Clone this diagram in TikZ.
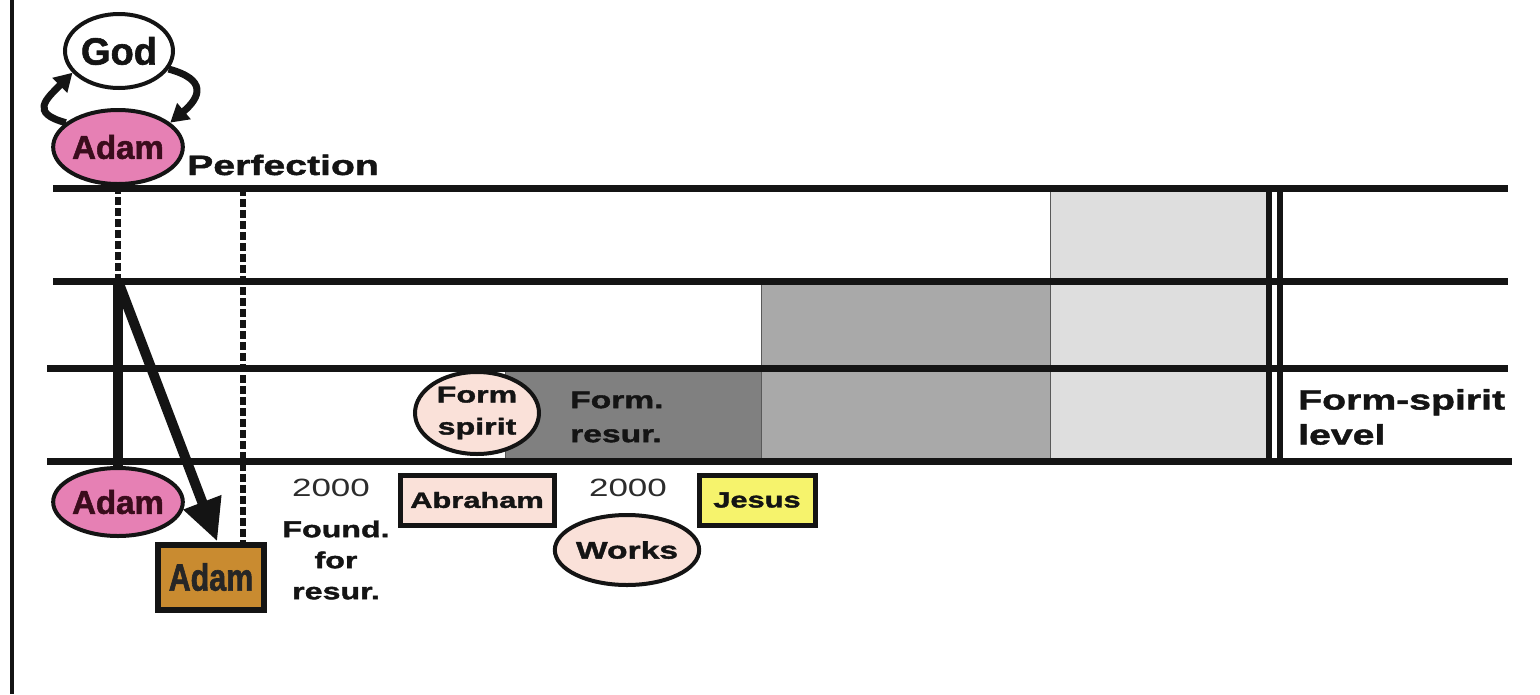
\documentclass[tikz,border=0pt]{standalone}
\usepackage{fontspec}
\setmainfont{Liberation Sans}[BoldFeatures={FakeBold=1.6}]
\newfontfamily\widesf{Liberation Sans}[FakeStretch=1.4,BoldFeatures={FakeBold=1.6}]
\newfontfamily\narrowsf{Liberation Sans}[FakeStretch=0.8,BoldFeatures={FakeBold=1.6}]
\usetikzlibrary{arrows.meta,positioning,shapes.geometric}
\definecolor{ink}{HTML}{141414}
\definecolor{adampink}{HTML}{E680B4}
\definecolor{adamtext}{HTML}{3A0C1C}
\definecolor{bronze}{HTML}{C98B30}
\definecolor{blush}{HTML}{FAE1D9}
\definecolor{lemon}{HTML}{F6F36C}
\definecolor{paleA}{HTML}{DEDEDE}
\definecolor{paleB}{HTML}{A9A9A9}
\definecolor{paleC}{HTML}{808080}
\newcommand\hv[2]{\widesf\bfseries\fontsize{#1}{#2}\selectfont}
\tikzset{
  bar/.style={line width=7pt,draw=ink},
  shade/.style={draw=black!65,line width=1pt},
  oval/.style={ellipse,draw=ink,line width=4pt,inner sep=0pt,align=center,text=ink},
  tag/.style={rectangle,draw=ink,line width=5pt,inner sep=0pt,text=ink},
  lbl/.style={inner sep=0pt,align=center,text=ink},
  yr/.style={inner sep=0pt,text=ink!90,font=\widesf\fontsize{25}{30}\selectfont},
  loop/.style={-{Triangle[length=18pt,width=20pt]},line width=7pt,draw=ink,looseness=1.9},
  fall/.style={-{Triangle[length=42pt,width=38pt]},line width=10pt,draw=ink},
  dots/.style={line width=6pt,draw=ink,dash pattern=on 8pt off 3pt},
}

\begin{document}
\begin{tikzpicture}[x=1pt,y=-1pt]
  \useasboundingbox (0,0) rectangle (1540,694);
  % shaded stages
  \filldraw[shade,fill=paleA] (1050,188) rectangle (1266,461);
  \filldraw[shade,fill=paleB] (761,281) rectangle (1050,461);
  \filldraw[shade,fill=paleC] (505,368) rectangle (761,461);
  % frame and levels
  \draw[line width=4pt,draw=ink] (12,0) -- (12,694);
  \foreach \y/\a/\b in {188/53/1508,281/53/1508,368/47/1508,461/47/1512}
    \draw[bar] (\a,\y) -- (\b,\y);
  \foreach \x in {1269,1280}
    \draw[line width=6pt,draw=ink] (\x,188) -- (\x,461);
  % God and Adam at perfection
  \node[oval,fill=white,minimum width=108,minimum height=74,font=\bfseries\fontsize{38}{40}\selectfont] (god) at (119,51) {God};
  \node[oval,fill=adampink,text=adamtext,minimum width=110,minimum height=74,font=\bfseries\fontsize{33}{36}\selectfont] (adamtop) at (118,147) {Adam};
  \node[lbl,anchor=base west,font=\hv{28}{34}] (perf) at (187,175) {Perfection};
  \draw[loop] (adamtop.155) to[out=165,in=225] (god.205);
  \draw[loop] (god.-20) to[out=-15,in=40] (adamtop.25);
  % the fall
  \coordinate (fallpt) at (118,281);
  \coordinate (foundtop) at (243,188);
  \node[oval,fill=adampink,text=adamtext,minimum width=106,minimum height=68,font=\bfseries\fontsize{33}{36}\selectfont] (adambot) at (118,502) {Adam};
  \node[tag,fill=bronze,text=black!85,minimum width=106,minimum height=65,line width=6pt,font=\narrowsf\bfseries\fontsize{38}{40}\selectfont] (adambox) at (211,577) {Adam};
  \draw[dots] (adamtop.south) -- (fallpt);
  \draw[dots] (foundtop) -- (foundtop |- adambox.north);
  \draw[line width=10pt,draw=ink] (fallpt) -- (adambot.north);
  \draw[fall] (fallpt) -- (adambox.80);
  % first 2000 years
  \node[yr] (yrA) at (331,488) {2000};
  \node[lbl,font=\hv{23}{31}] (found) at (336,560) {Found.\\for\\resur.};
  \node[tag,fill=blush,minimum width=154,minimum height=50,font=\hv{22}{26}] (abraham) at (477,500) {Abraham};
  % second 2000 years
  \node[yr] (yrB) at (628,488) {2000};
  \node[oval,fill=blush,minimum width=122,minimum height=70,font=\hv{24}{28}] (works) at (627,550) {Works};
  \node[tag,fill=lemon,minimum width=116,minimum height=50,font=\hv{22}{26}] (jesus) at (757,500) {Jesus};
  \node[oval,fill=blush,minimum width=124,minimum height=82,font=\hv{23}{32}] (formspirit) at (477,413) {Form\\spirit};
  \node[lbl,anchor=west,align=left,font=\hv{24}{34}] (formres) at (570,417) {Form.\\resur.};
  \node[lbl,anchor=west,align=left,font=\hv{28}{35}] (fslevel) at (1298,417) {Form-spirit\\level};
\end{tikzpicture}
\end{document}
